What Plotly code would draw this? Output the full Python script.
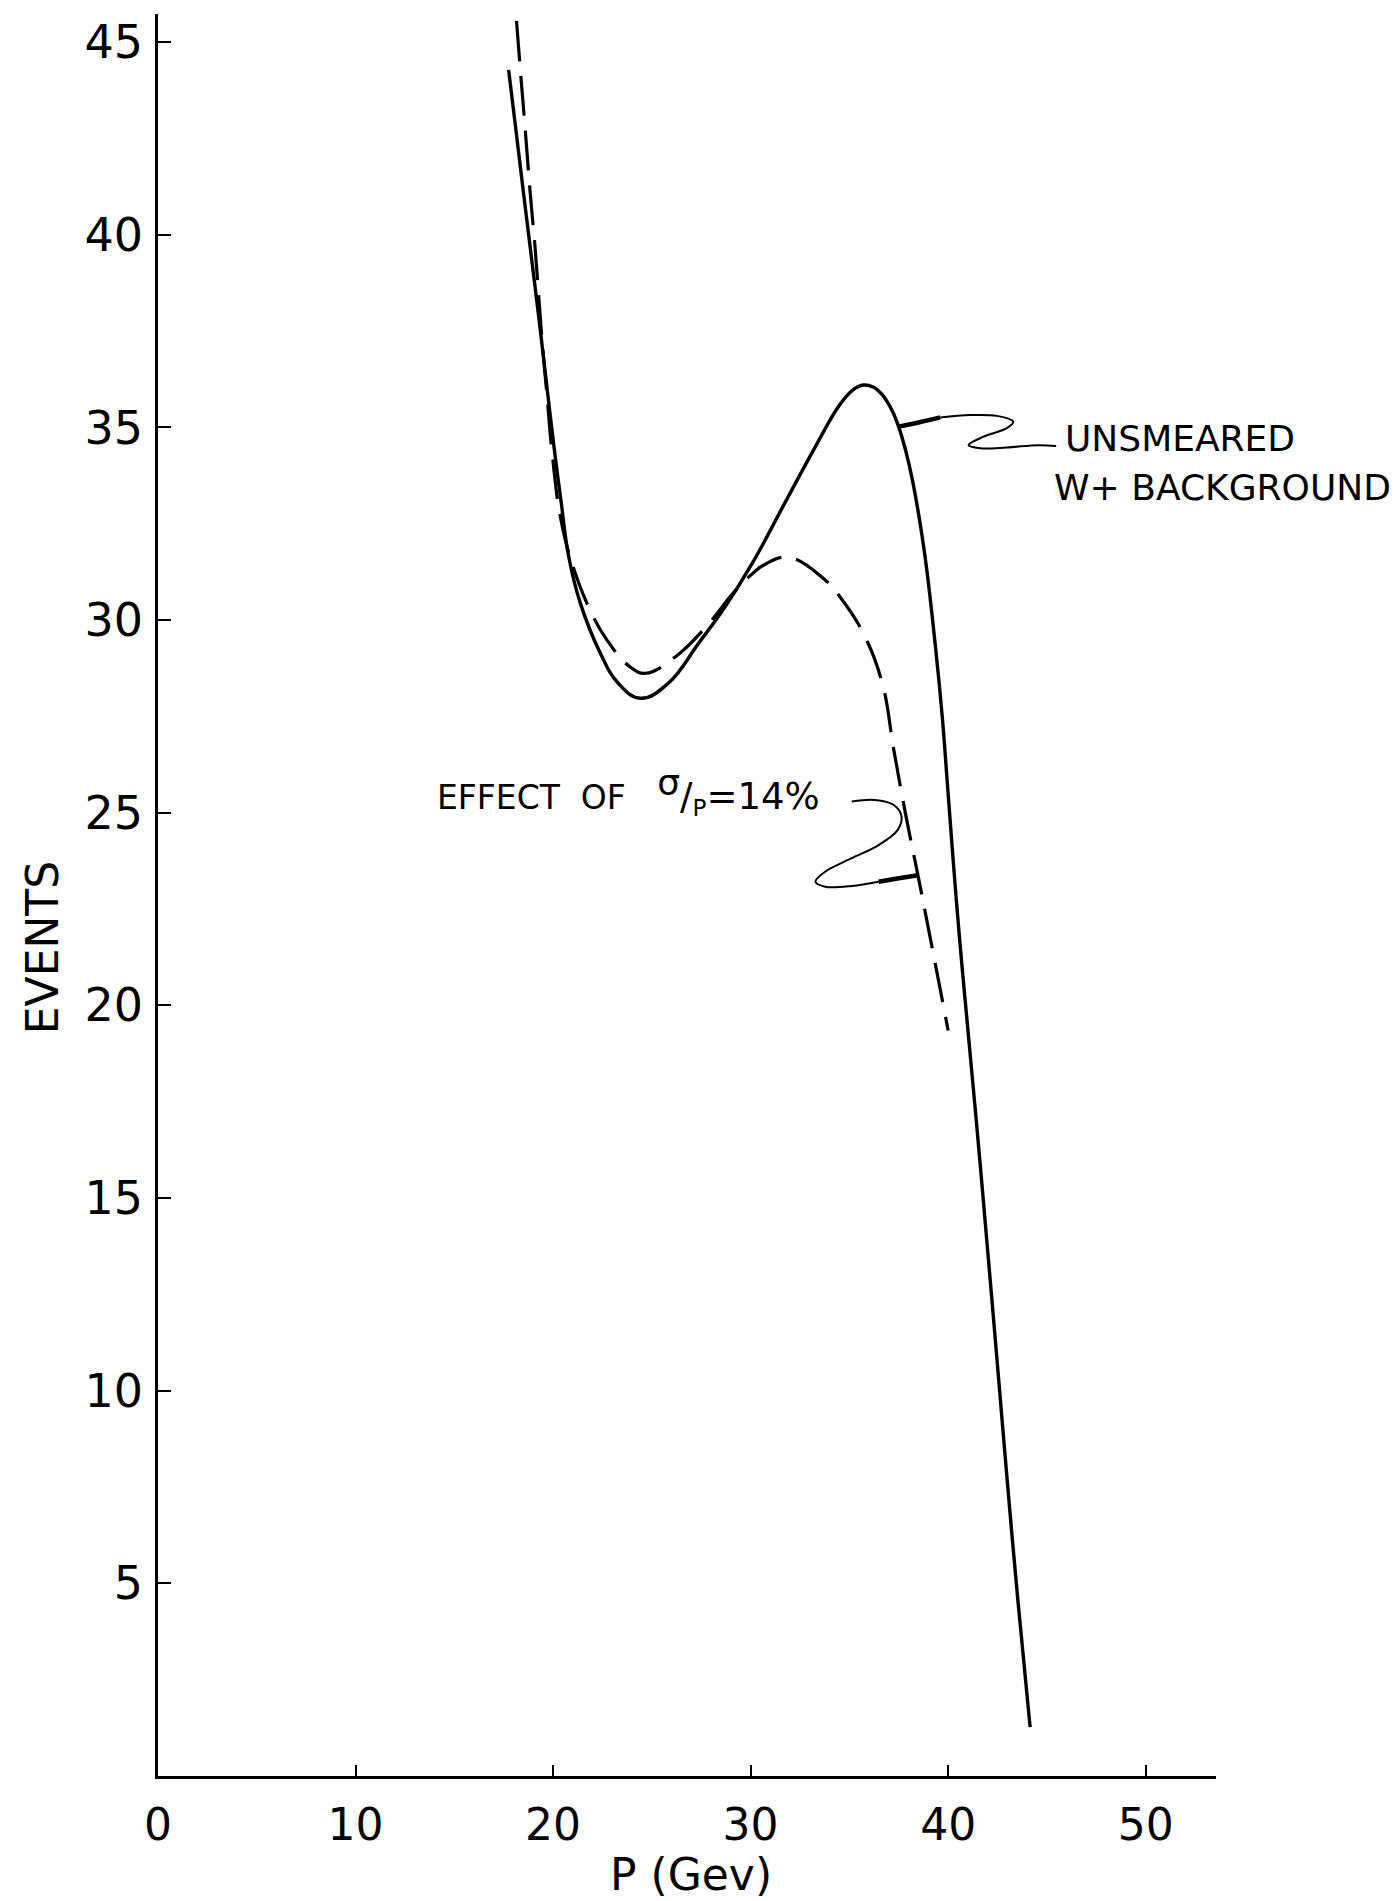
import plotly.graph_objects as go

# ---- data ----
unsmeared_p = [17.75, 18.1, 18.5, 18.86, 19.29, 19.7, 20.07, 20.4, 20.79, 21.38, 22.34, 23.3,
               24.43, 25.83, 27.37, 28.7, 30.08, 31.63, 33.17, 34.53, 35.2, 35.7, 36.2, 36.66,
               37.1, 37.44, 37.85, 38.22, 38.79, 39.38, 39.7, 39.96, 40.25, 40.55, 40.86,
               41.42, 41.95, 42.47, 42.98, 43.52, 44.15]
unsmeared_ev = [44.28, 42.8, 41.1, 39.6, 37.8, 36.0, 34.4, 33.1, 31.65, 30.44, 29.2, 28.36,
                27.97, 28.36, 29.4, 30.34, 31.47, 32.94, 34.4, 35.6, 35.98, 36.1, 36.05, 35.85,
                35.5, 35.1, 34.4, 33.56, 31.8, 29.2, 27.5, 25.77, 23.8, 21.9, 20.14,
                17.04, 13.94, 10.83, 7.73, 4.62, 1.27]

smeared_p = [18.15, 18.34, 18.58, 18.84, 19.1, 19.42, 19.68, 19.98, 20.4, 21.07, 21.93, 22.73,
             23.89, 24.67, 26.2, 27.75, 29.12, 30.08, 30.67, 31.92, 33.77, 34.53, 35.7, 36.66,
             37.25, 37.87, 38.47, 39.0, 40.0]
smeared_ev = [45.55, 44.3, 42.8, 41.1, 39.6, 37.4, 35.9, 34.2, 32.6, 31.3, 30.2, 29.48,
              28.79, 28.62, 29.05, 29.83, 30.7, 31.2, 31.43, 31.63, 31.04, 30.6, 29.66, 28.37,
              26.63, 24.9, 23.38, 22.0, 19.35]

x_ticks = [0, 10, 20, 30, 40, 50]
y_ticks = [5, 10, 15, 20, 25, 30, 35, 40, 45]

# hand-drawn leader lines
lead1_head_p = [37.49, 38.6, 39.6]
lead1_head_ev = [35.02, 35.14, 35.26]
lead1_p = [39.6, 41.1, 42.46, 43.3, 42.97, 41.79, 41.03, 41.62, 42.97, 44.57, 45.47]
lead1_ev = [35.26, 35.32, 35.3, 35.15, 34.98, 34.76, 34.54, 34.46, 34.48, 34.54, 34.52]

lead2_p = [35.12, 36.28, 37.25, 37.64, 37.44, 36.48, 35.12, 33.77, 33.28, 33.77, 35.12, 36.48]
lead2_ev = [25.29, 25.33, 25.2, 24.9, 24.55, 24.16, 23.82, 23.47, 23.21, 23.08, 23.1, 23.21]
lead2_head_p = [36.48, 37.5, 38.47]
lead2_head_ev = [23.21, 23.3, 23.38]

FONT = "DejaVu Sans"

fig = go.Figure()

fig.add_trace(go.Scatter(x=unsmeared_p, y=unsmeared_ev, mode="lines",
                         line=dict(color="black", width=3.4, shape="spline", smoothing=1.2),
                         showlegend=False, hoverinfo="skip"))
fig.add_trace(go.Scatter(x=smeared_p, y=smeared_ev, mode="lines",
                         line=dict(color="black", width=3.2, shape="spline", smoothing=1.2,
                                   dash="40px,15px"),
                         showlegend=False, hoverinfo="skip"))

for xs, ys, w in [(lead1_p, lead1_ev, 2), (lead1_head_p, lead1_head_ev, 4.5),
                  (lead2_p, lead2_ev, 2), (lead2_head_p, lead2_head_ev, 4.5)]:
    fig.add_trace(go.Scatter(x=xs, y=ys, mode="lines",
                             line=dict(color="black", width=w, shape="spline", smoothing=1.0),
                             showlegend=False, hoverinfo="skip"))

annos = [
    dict(text="UNSMEARED", x=45.8, y=34.7, xref="x", yref="y", xanchor="left",
         yanchor="middle", showarrow=False, font=dict(family=FONT, size=36, color="black")),
    dict(text="W+ BACKGROUND", x=45.25, y=33.45, xref="x", yref="y", xanchor="left",
         yanchor="middle", showarrow=False, font=dict(family=FONT, size=36, color="black")),
    dict(text=("EFFECT\u00a0\u00a0OF\u00a0\u00a0\u00a0"
               "<sup><span style='font-size:36px'>σ</span></sup>"
               "<span style='font-size:37px'>/</span><sub>P</sub>"
               "<span style='font-size:37px'>=14%</span>"),
         x=14.0, y=25.55,
         xref="x", yref="y", xanchor="left", yanchor="middle", showarrow=False,
         font=dict(family=FONT, size=33, color="black")),
    dict(text="EVENTS", x=-0.109, y=21.5, xref="paper", yref="y", textangle=-90,
         xanchor="center", yanchor="middle", showarrow=False,
         font=dict(family=FONT, size=44, color="black")),
    dict(text="P\u00a0(Gev)", x=27.0, y=-0.056, xref="x", yref="paper", xanchor="center",
         yanchor="middle", showarrow=False, font=dict(family=FONT, size=44, color="black")),
]

fig.update_layout(
    width=1399, height=1901, autosize=False,
    margin=dict(l=158, r=183, t=14, b=125, pad=0),
    paper_bgcolor="white", plot_bgcolor="white",
    annotations=annos,
    font=dict(family=FONT, color="black"),
)
fig.update_xaxes(range=[0, 53.56], showline=True, linecolor="black", linewidth=2.5,
                 ticks="inside", ticklen=11, tickwidth=2, tickcolor="black",
                 tickvals=x_ticks, ticktext=[str(v) for v in x_ticks],
                 tickfont=dict(family=FONT, size=44, color="black"),
                 showgrid=False, zeroline=False, ticklabelstandoff=8)
fig.update_yaxes(range=[0, 45.73], showline=True, linecolor="black", linewidth=2.5,
                 ticks="inside", ticklen=13, tickwidth=2, tickcolor="black",
                 tickvals=y_ticks, ticktext=[str(v) for v in y_ticks],
                 tickfont=dict(family=FONT, size=46, color="black"),
                 showgrid=False, zeroline=False, ticklabelstandoff=3)

fig.write_html("out.html")
